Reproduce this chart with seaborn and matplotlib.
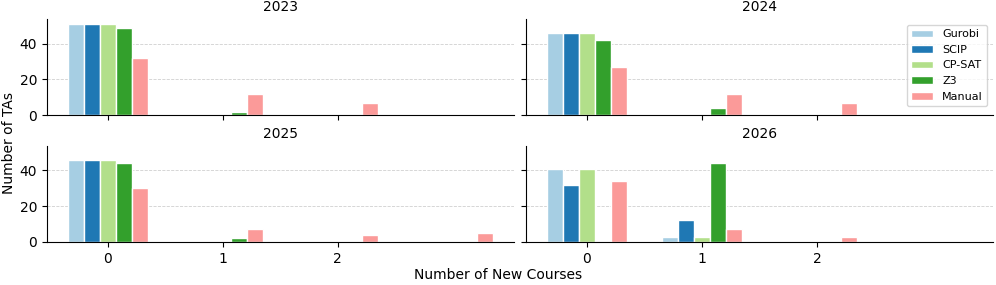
import pandas as pd
import matplotlib
matplotlib.use("Agg")
import matplotlib.pyplot as plt
import seaborn as sns

years = [2023, 2024, 2025, 2026]
solvers = ["Gurobi", "SCIP", "CP-SAT", "Z3", "Manual"]
new_courses = [0, 1, 2, 3]

# TAs per number of new courses (0, 1, 2, 3)
counts = {
    2023: {"Gurobi": [51, 0, 0, 0], "SCIP": [51, 0, 0, 0], "CP-SAT": [51, 0, 0, 0],
           "Z3": [49, 2, 0, 0], "Manual": [32, 12, 7, 0]},
    2024: {"Gurobi": [46, 0, 0, 0], "SCIP": [46, 0, 0, 0], "CP-SAT": [46, 0, 0, 0],
           "Z3": [42, 4, 0, 0], "Manual": [27, 12, 7, 0]},
    2025: {"Gurobi": [46, 0, 0, 0], "SCIP": [46, 0, 0, 0], "CP-SAT": [46, 0, 0, 0],
           "Z3": [44, 2, 0, 0], "Manual": [30, 7, 4, 5]},
    2026: {"Gurobi": [41, 3, 0, 0], "SCIP": [32, 12, 0, 0], "CP-SAT": [41, 3, 0, 0],
           "Z3": [0, 44, 0, 0], "Manual": [34, 7, 3, 0]},
}

rows = []
for yr in years:
    for s in solvers:
        for k, v in zip(new_courses, counts[yr][s]):
            rows.append({"year": yr, "solver": s, "new": k, "tas": v})
df = pd.DataFrame(rows)

palette = sns.color_palette("Paired", 5)

fig, axes = plt.subplots(2, 2, figsize=(9.96, 2.85), dpi=100, sharex=True, sharey=True)

for ax, yr in zip(axes.flat, years):
    sub = df[df["year"] == yr]
    sns.barplot(data=sub, x="new", y="tas", hue="solver", order=new_courses,
                hue_order=solvers, palette=palette, width=0.7, saturation=1,
                edgecolor="white", linewidth=1, ax=ax)
    ax.set_title(str(yr), fontsize=10)
    ax.set_xlabel("")
    ax.set_ylabel("")
    ax.set_xticks([0, 1, 2])
    ax.set_xticklabels(["0", "1", "2"])
    ax.set_yticks([0, 20, 40])
    ax.set_xlim(-0.53, 3.53)
    ax.yaxis.grid(True, linestyle="--", linewidth=0.6, color="#bbbbbb", alpha=0.7)
    ax.set_axisbelow(True)
    sns.despine(ax=ax)
    leg = ax.get_legend()
    if leg is not None:
        leg.remove()

axes[0, 1].legend(loc="upper right", fontsize=8)
for ax in axes[0]:
    ax.tick_params(labelbottom=False)

fig.supylabel("Number of TAs", fontsize=10, x=0.002)
fig.supxlabel("Number of New Courses", fontsize=10, y=0.01)
fig.subplots_adjust(left=0.047, right=0.997, top=0.932, bottom=0.151, wspace=0.026, hspace=0.32)
fig.savefig("out.png", dpi=100)
